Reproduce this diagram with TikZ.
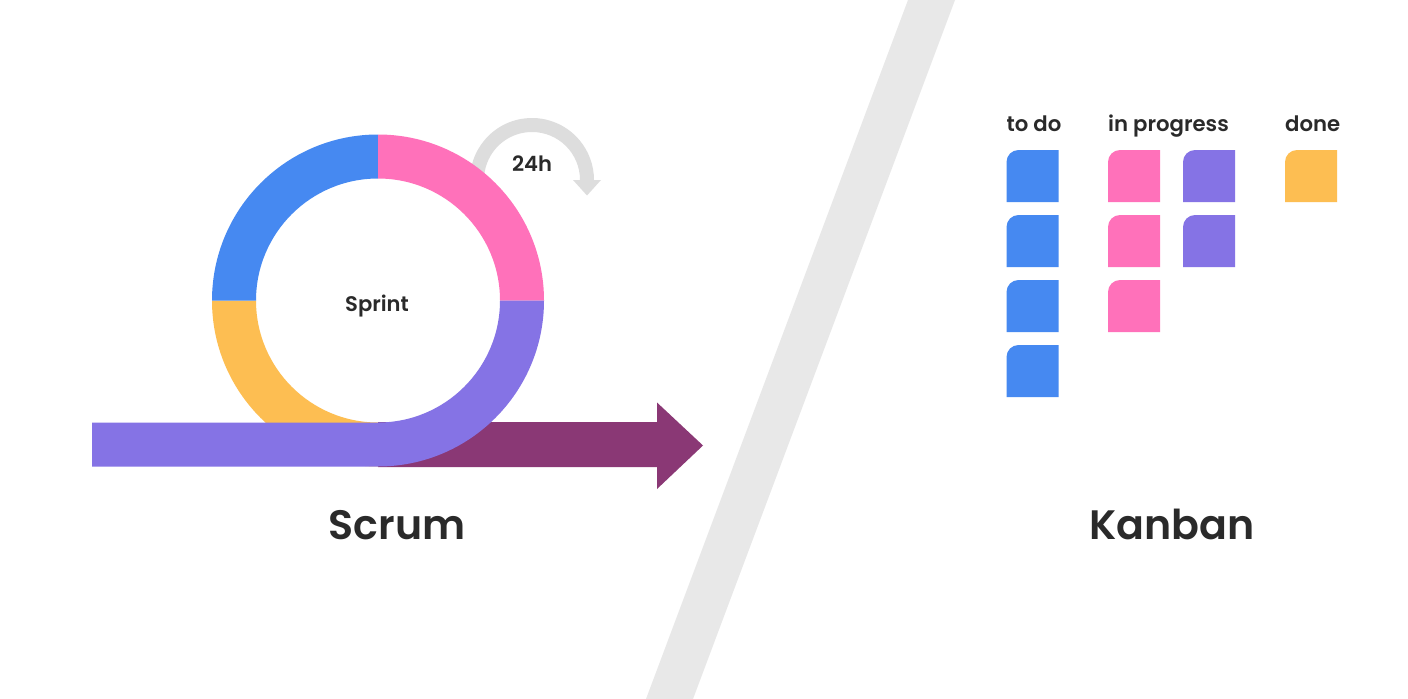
\documentclass[tikz,border=0pt]{standalone}
\usepackage{fontspec}
\usetikzlibrary{calc}
\setmainfont{Poppins}
\newfontfamily\popsemi{Poppins SemiBold}

\definecolor{kblue}{HTML}{4689F1}
\definecolor{kpink}{HTML}{FF71BA}
\definecolor{kpurple}{HTML}{8573E5}
\definecolor{kyellow}{HTML}{FDBE52}
\definecolor{kmaroon}{HTML}{8A3875}
\definecolor{loopgray}{HTML}{DDDDDD}
\definecolor{stripe}{HTML}{E8E8E8}
\definecolor{ink}{HTML}{2A2A2A}

% one quarter of the sprint ring: colour, start angle, end angle
\newcommand\ringsector[3]{%
  \fill[#1] ($(rc)+(#2:166)$) arc[start angle=#2,end angle=#3,radius=166]
    -- ($(rc)+(#3:122)$) arc[start angle=#3,end angle=#2,radius=122] -- cycle;}

\begin{document}
\begin{tikzpicture}[x=0.05cm,y=-0.05cm,
  title/.style={font=\popsemi\fontsize{58.5}{70}\selectfont, text=ink, inner sep=0pt, anchor=base},
  small/.style={font=\popsemi\fontsize{30}{36}\selectfont, text=ink, inner sep=0pt, anchor=base},
  colhead/.style={font=\popsemi\fontsize{30.2}{36}\selectfont, text=ink, inner sep=0pt, anchor=base west},
  kcard/.pic={\path[pic actions] (0,52) -- (0,12) arc[start angle=180,end angle=270,radius=12]
      -- (52,0) -- (52,52) -- cycle;}]
\useasboundingbox (0,0) rectangle (1408,699);
\fill[white] (0,0) rectangle (1408,699);

% diagonal divider
\fill[stripe] (908,0) -- (955,0) -- (693,699) -- (646,699) -- cycle;

% timeline arrow
\fill[kmaroon] (378,422) -- (657,422) -- (657,402.5) -- (703,445.5) -- (657,489)
  -- (657,467) -- (378,467) -- cycle;

% daily loop
\coordinate (dc) at (532,180);
\fill[loopgray] ($(dc)+(170:62)$) arc[start angle=170,end angle=360,radius=62]
  -- ($(dc)+(0:48)$) arc[start angle=360,end angle=170,radius=48] -- cycle;
\fill[loopgray] (573,180) -- (601,180) -- (587,195.5) -- cycle;

% sprint ring
\coordinate (rc) at (378,300.5);
\ringsector{kyellow}{90}{180}
\ringsector{kblue}{180}{270}
\ringsector{kpink}{270}{360}
\fill[kpurple] ($(rc)+(0:166)$) arc[start angle=0,end angle=90,radius=166]
  -- (92,466.5) -- (92,422.5) -- ($(rc)+(90:122)$)
  arc[start angle=90,end angle=0,radius=122] -- cycle;

\node[small] (sprint) at (377,311.7) {Sprint};
\node[small] (hours) at (532,171.7) {24h};

% titles
\node[title] (scrum) at (397,539.3) {Scrum};
\node[title] (kanban) at (1172,539.3) {Kanban};

% board columns
\node[colhead] (todo) at (1006.5,131.7) {to do};
\node[colhead] (inprog) at (1108,131.7) {in progress};
\node[colhead] (done) at (1285,131.7) {done};

\pic[fill=kblue] (t1) at (1006.5,150) {kcard};
\pic[fill=kblue] (t2) at (1006.5,215) {kcard};
\pic[fill=kblue] (t3) at (1006.5,280) {kcard};
\pic[fill=kblue] (t4) at (1006.5,345) {kcard};
\pic[fill=kpink] (p1) at (1108,150) {kcard};
\pic[fill=kpink] (p2) at (1108,215) {kcard};
\pic[fill=kpink] (p3) at (1108,280) {kcard};
\pic[fill=kpurple] (q1) at (1183,150) {kcard};
\pic[fill=kpurple] (q2) at (1183,215) {kcard};
\pic[fill=kyellow] (d1) at (1285,150) {kcard};
\end{tikzpicture}
\end{document}
